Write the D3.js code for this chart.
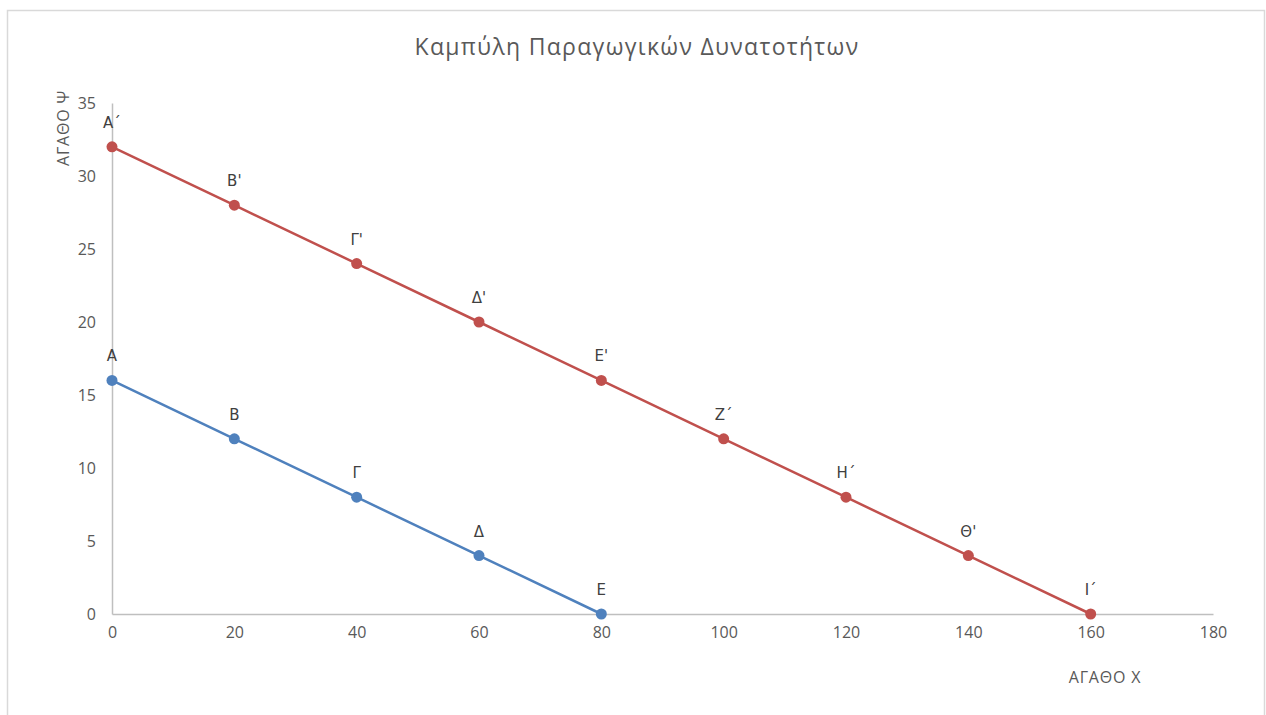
<!DOCTYPE html>
<html>
<head>
<meta charset="utf-8">
<script src="https://cdn.jsdelivr.net/npm/d3@7"></script>
<style>
  html, body { margin: 0; padding: 0; background: #fff; }
  svg { display: block; font-family: "Open Sans", "Noto Sans", "DejaVu Sans", sans-serif; }
</style>
</head>
<body>
<svg id="chart" width="1266" height="715"></svg>
<script>
// Production possibilities: quantity of good X vs good Y
const goodX1 = [0, 20, 40, 60, 80];
const goodY1 = [16, 12, 8, 4, 0];
const labels1 = ["Α", "Β", "Γ", "Δ", "Ε"];

const goodX2 = [0, 20, 40, 60, 80, 100, 120, 140, 160];
const goodY2 = [32, 28, 24, 20, 16, 12, 8, 4, 0];
const labels2 = ["Α΄", "Β'", "Γ'", "Δ'", "Ε'", "Ζ΄", "Η΄", "Θ'", "Ι΄"];

const xTicks = [0, 20, 40, 60, 80, 100, 120, 140, 160, 180];
const yTicks = [0, 5, 10, 15, 20, 25, 30, 35];

const titleText = "Καμπύλη Παραγωγικών Δυνατοτήτων";
const xTitle = "ΑΓΑΘΟ Χ";
const yTitle = "ΑΓΑΘΟ Ψ";

const svg = d3.select("#chart");

// chart area frame
svg.append("rect")
  .attr("x", 7.5).attr("y", 10.5)
  .attr("width", 1257).attr("height", 720)
  .attr("fill", "#fff")
  .attr("stroke", "#d9d9d9").attr("stroke-width", 1.5);

const x = d3.scaleLinear().domain([0, 180]).range([112, 1213]);
const y = d3.scaleLinear().domain([0, 35]).range([614, 103]);

const axisColor = "#bfbfbf";
const textColor = "#595959";

// x axis
const gx = svg.append("g").attr("transform", `translate(0,${y(0)})`)
  .call(d3.axisBottom(x).tickValues(xTicks).tickSize(0).tickPadding(13));
gx.select(".domain").attr("stroke", axisColor).attr("stroke-width", 1.5);
gx.selectAll("text").attr("fill", textColor).attr("font-size", 16)
  .attr("font-family", "Open Sans, Noto Sans, sans-serif");

// y axis
const gy = svg.append("g").attr("transform", `translate(${x(0)},0)`)
  .call(d3.axisLeft(y).tickValues(yTicks).tickSize(0).tickPadding(16));
gy.select(".domain").attr("stroke", axisColor).attr("stroke-width", 1.5);
gy.selectAll("text").attr("fill", textColor).attr("font-size", 16)
  .attr("font-family", "Open Sans, Noto Sans, sans-serif");

// title
svg.append("text")
  .attr("x", 637).attr("y", 55)
  .attr("text-anchor", "middle")
  .attr("fill", textColor).attr("font-size", 23)
  .attr("letter-spacing", 1.3)
  .text(titleText);

// axis titles
svg.append("text")
  .attr("x", 1105).attr("y", 683)
  .attr("text-anchor", "middle")
  .attr("fill", textColor).attr("font-size", 16)
  .attr("letter-spacing", 0.8)
  .text(xTitle);

svg.append("text")
  .attr("transform", "translate(69,128) rotate(-90)")
  .attr("text-anchor", "middle")
  .attr("fill", textColor).attr("font-size", 16)
  .attr("letter-spacing", 0.8)
  .text(yTitle);

const line = d3.line().x(d => x(d[0])).y(d => y(d[1]));

function drawSeries(xs, ys, labels, color) {
  const pts = xs.map((v, i) => [v, ys[i], labels[i]]);
  svg.append("path")
    .datum(pts)
    .attr("d", line)
    .attr("fill", "none")
    .attr("stroke", color)
    .attr("stroke-width", 2.5)
    .attr("stroke-linejoin", "round");
  svg.append("g").selectAll("circle")
    .data(pts).join("circle")
    .attr("cx", d => x(d[0])).attr("cy", d => y(d[1]))
    .attr("r", 5.5)
    .attr("fill", color);
  svg.append("g").selectAll("text")
    .data(pts).join("text")
    .attr("x", d => x(d[0])).attr("y", d => y(d[1]) - 19)
    .attr("text-anchor", "middle")
    .attr("font-family", "DejaVu Sans, Noto Sans, sans-serif")
    .attr("fill", "#404040").attr("font-size", 15)
    .text(d => d[2]);
}

drawSeries(goodX1, goodY1, labels1, "#4f81bd");
drawSeries(goodX2, goodY2, labels2, "#c0504d");
</script>
</body>
</html>
